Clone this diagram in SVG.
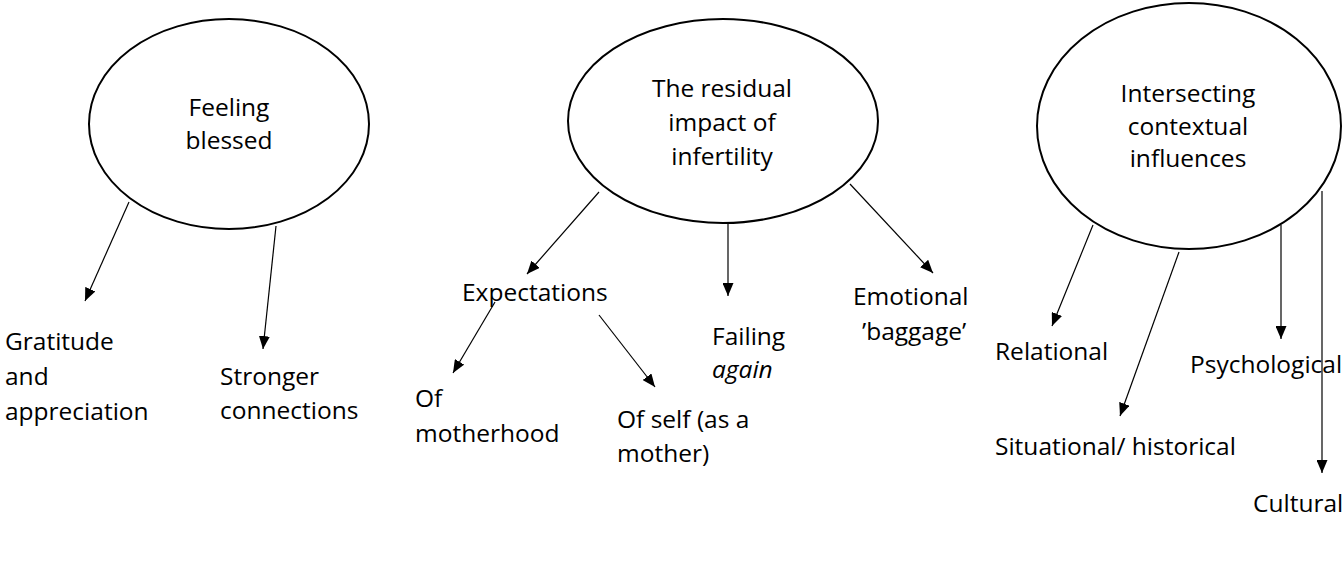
<svg xmlns="http://www.w3.org/2000/svg" width="1343" height="571" viewBox="0 0 1343 571">
<style>
.node ellipse{fill:#fff;stroke:#000;stroke-width:2}
text{font-family:"Open Sans","Noto Sans","Liberation Sans",sans-serif;font-size:24.5px;fill:#000}
.c{text-anchor:middle}
.conn line{stroke:#000;stroke-width:1.2;marker-end:url(#ah)}
</style>
<defs>
<marker id="ah" viewBox="0 0 13 11" refX="13" refY="5.5" markerWidth="13" markerHeight="11" markerUnits="userSpaceOnUse" orient="auto">
<path d="M0,0 L13,5.5 L0,11 Z" fill="#000"/>
</marker>
</defs>
<rect width="1343" height="571" fill="#fff"/>
<g id="n-feeling" class="node">
<ellipse cx="229" cy="124" rx="140" ry="105"/>
<text class="c" x="229" y="116">Feeling</text>
<text class="c" x="229" y="149">blessed</text>
</g>
<g id="n-residual" class="node">
<ellipse cx="723" cy="121" rx="155" ry="102"/>
<text class="c" x="722" y="97">The residual</text>
<text class="c" x="722" y="131">impact of</text>
<text class="c" x="722" y="165">infertility</text>
</g>
<g id="n-intersecting" class="node">
<ellipse cx="1189" cy="126" rx="152" ry="123"/>
<text class="c" x="1188" y="102">Intersecting</text>
<text class="c" x="1188" y="135">contextual</text>
<text class="c" x="1188" y="167">influences</text>
</g>
<g id="n-gratitude"><text x="5" y="350">Gratitude</text><text x="5" y="385">and</text><text x="5" y="420">appreciation</text></g>
<g id="n-stronger"><text x="220" y="385">Stronger</text><text x="220" y="419">connections</text></g>
<g id="n-expectations"><text x="462" y="301">Expectations</text></g>
<g id="n-motherhood"><text x="415" y="407">Of</text><text x="415" y="442">motherhood</text></g>
<g id="n-self"><text x="617" y="428">Of self (as a</text><text x="617" y="462">mother)</text></g>
<g id="n-failing"><text x="712" y="345">Failing</text><text x="712" y="378" font-style="italic">again</text></g>
<g id="n-emotional"><text x="853" y="305">Emotional</text><text x="862" y="340">’baggage’</text></g>
<g id="n-relational"><text x="995" y="360">Relational</text></g>
<g id="n-psychological"><text x="1190" y="373">Psychological</text></g>
<g id="n-situational"><text x="995" y="455">Situational/ historical</text></g>
<g id="n-cultural"><text x="1253" y="512">Cultural</text></g>
<g id="connectors" class="conn">
<line x1="129" y1="202" x2="85" y2="301"/>
<line x1="276" y1="226" x2="263" y2="349"/>
<line x1="599" y1="192" x2="527" y2="274"/>
<line x1="728" y1="223" x2="728" y2="296"/>
<line x1="850" y1="184" x2="933" y2="273"/>
<line x1="495" y1="302" x2="453" y2="373"/>
<line x1="599" y1="315" x2="655" y2="387"/>
<line x1="1093" y1="225" x2="1052" y2="326"/>
<line x1="1179" y1="252" x2="1120" y2="416"/>
<line x1="1281" y1="225" x2="1281" y2="339"/>
<line x1="1322" y1="191" x2="1322" y2="473"/>
</g>
</svg>
